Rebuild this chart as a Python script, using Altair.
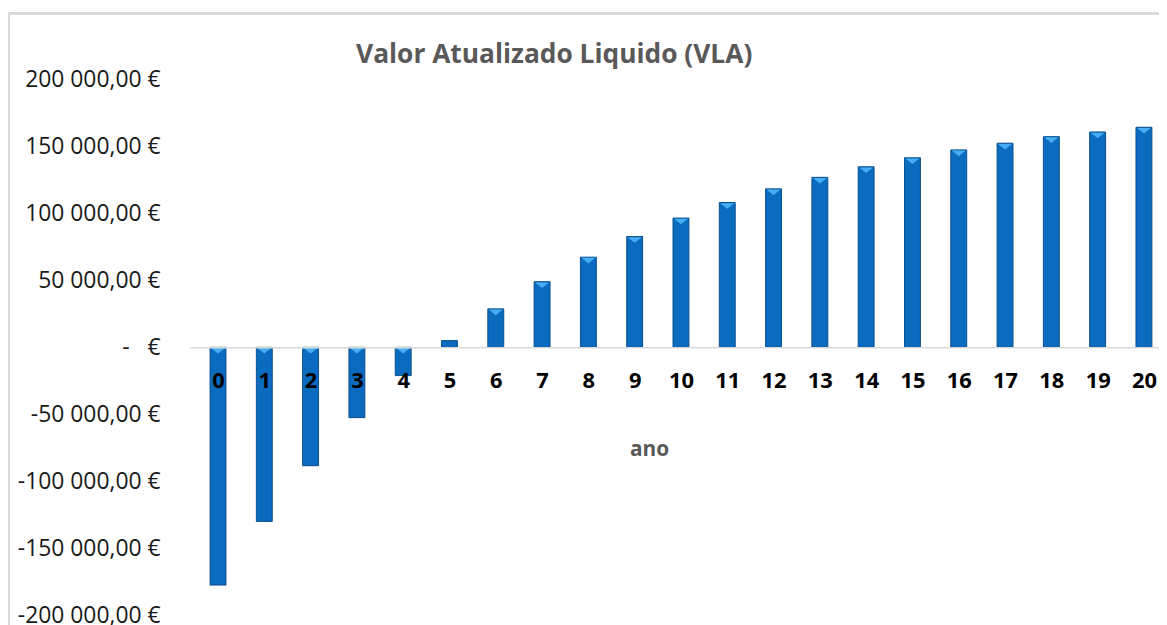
import altair as alt
import pandas as pd

anos = list(range(21))
vla = [-177500, -130000, -88400, -52500, -21100, 5000, 28700, 49000, 67300,
       82700, 96500, 108100, 118300, 126900, 134800, 141500, 147400, 152400,
       157300, 160800, 164300]

df = pd.DataFrame({"ano": anos, "vla": vla})
df["topo"] = df["vla"].clip(lower=0)
df["mostrar"] = df["vla"].abs() > 10000

L, T = 183, 70
W, H = 975, 539
step = 47.06
xmax = -0.5 + W / step

FONT = "Open Sans"

xscale = alt.Scale(domain=[-0.5, xmax], nice=False, zero=False)
yscale = alt.Scale(domain=[-200000, 200000], nice=False)

NB = "\u00a0"
ylabel = (f"datum.value == 0 ? '-{NB}{NB}{NB}€' : (datum.value < 0 ? '-' : '') + "
          "replace(replace(format(abs(datum.value), ',.2f'), regexp(',', 'g'), ' '), '.', ',') + ' €'")

bars = alt.Chart(df).mark_bar(width=16, color="#0A6BBF", stroke="#0A4F8F",
                              strokeWidth=1).encode(
    x=alt.X("ano:Q", scale=xscale,
            axis=alt.Axis(values=anos, format="d", ticks=False, grid=False,
                          domainColor="#d9d9d9", domainWidth=1.5,
                          offset=-H / 2, zindex=1, labelFont=FONT,
                          labelFontSize=22, labelFontWeight="bold",
                          labelColor="#000000", labelPadding=23,
                          labelFlush=False,
                          title="ano", titleFont=FONT, titleFontSize=21,
                          titleFontWeight="bold", titleColor="#595959",
                          titleX=462, titleY=103, titleBaseline="middle",
                          titleAnchor="start", titleAlign="center")),
    y=alt.Y("vla:Q", scale=yscale,
            axis=alt.Axis(values=list(range(-200000, 200001, 50000)),
                          labelExpr=ylabel, ticks=False, domain=False,
                          grid=False, labelFont=FONT, labelFontSize=23,
                          labelColor="#1a1a1a", labelPadding=30,
                          title=None)),
    y2=alt.datum(0),
)

tri = alt.Chart(df).transform_filter("datum.mostrar").mark_point(
    shape="M-1,-0.4L1,-0.4L0,0.4Z", filled=True, color="#45AEF2",
    size=196, opacity=1, yOffset=3.5, strokeWidth=0).encode(
    x=alt.X("ano:Q", scale=xscale),
    y=alt.Y("topo:Q", scale=yscale),
)

borda_esq = alt.Chart(df).mark_rule(color="#d9d9d9", strokeWidth=2).encode(
    x=alt.value(-182.5), y=alt.value(-67.5), y2=alt.value(H + 20),
)
borda_top = alt.Chart(df).mark_rule(color="#d9d9d9", strokeWidth=2).encode(
    x=alt.value(-183.5), x2=alt.value(W + 20), y=alt.value(-66.5),
)

chart = alt.layer(borda_esq, borda_top, bars, tri).properties(
    width=W, height=H,
    background="white",
    autosize=alt.AutoSizeParams(type="none"),
    padding={"left": L, "top": T, "right": 0, "bottom": 8},
    title=alt.TitleParams("Valor Atualizado Liquido (VLA)", font=FONT,
                          fontSize=26.5, fontWeight="bold", color="#595959",
                          anchor="middle", dx=-121, offset=0, dy=57),
).configure_view(strokeWidth=0, stroke="transparent")

chart.save("out.html", embed_options={"renderer": "svg", "actions": False})
